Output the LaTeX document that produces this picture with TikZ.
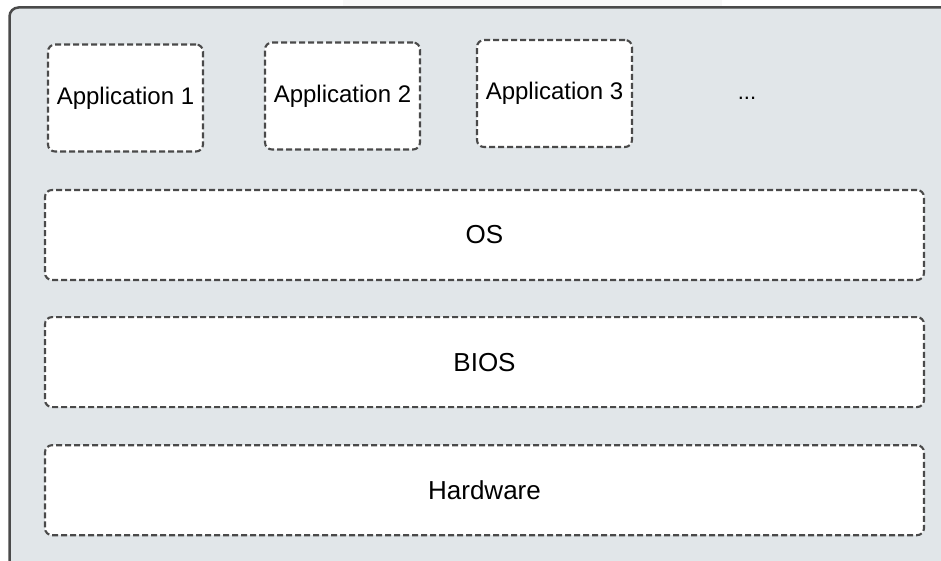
\documentclass[tikz,border=0pt]{standalone}
\usepackage{fontspec}
\setmainfont{Liberation Sans}
\definecolor{stackedge}{HTML}{4A4A4A}
\definecolor{stackbg}{HTML}{E1E6E9}
\definecolor{stacktab}{HTML}{F8F8F8}
\usetikzlibrary{positioning}

\begin{document}
\begin{tikzpicture}[x=1pt, y=1pt,
    every node/.style={font=\fontsize{24}{28}\selectfont, text=black},
    layerbox/.style={draw=stackedge, fill=white, line width=2.1pt, dash pattern=on 6pt off 3pt, rounded corners=7pt, minimum width=879pt, minimum height=90pt, font=\fontsize{26}{30}\selectfont},
    appbox/.style={draw=stackedge, fill=white, line width=2.1pt, dash pattern=on 6pt off 3pt, rounded corners=7pt, minimum width=155pt, minimum height=107pt}]
        \clip (0,0) rectangle (941,560);
        % container, cut off at right and bottom
        \fill[stacktab] (343,552) rectangle (722,560);
        \draw[draw=stackedge, fill=stackbg, line width=2.5pt, rounded corners=9pt] (9.5,552.5) rectangle (990,-40);
        \node[appbox] (app1) at (125.5,462) {Application 1};
        \node[appbox] (app2) at (342.5,464) {Application 2};
        \node[appbox] (app3) at (554.5,466.5) {Application 3};
        \node[font=\fontsize{22}{24}\selectfont] (more) at (747,462) {...};
        \node[layerbox] (os) at (484.5,325) {OS};
        \node[layerbox, below=35pt of os] (bios) {BIOS};
        \node[layerbox, below=36pt of bios] (hw) {Hardware};
      \end{tikzpicture}
\end{document}
